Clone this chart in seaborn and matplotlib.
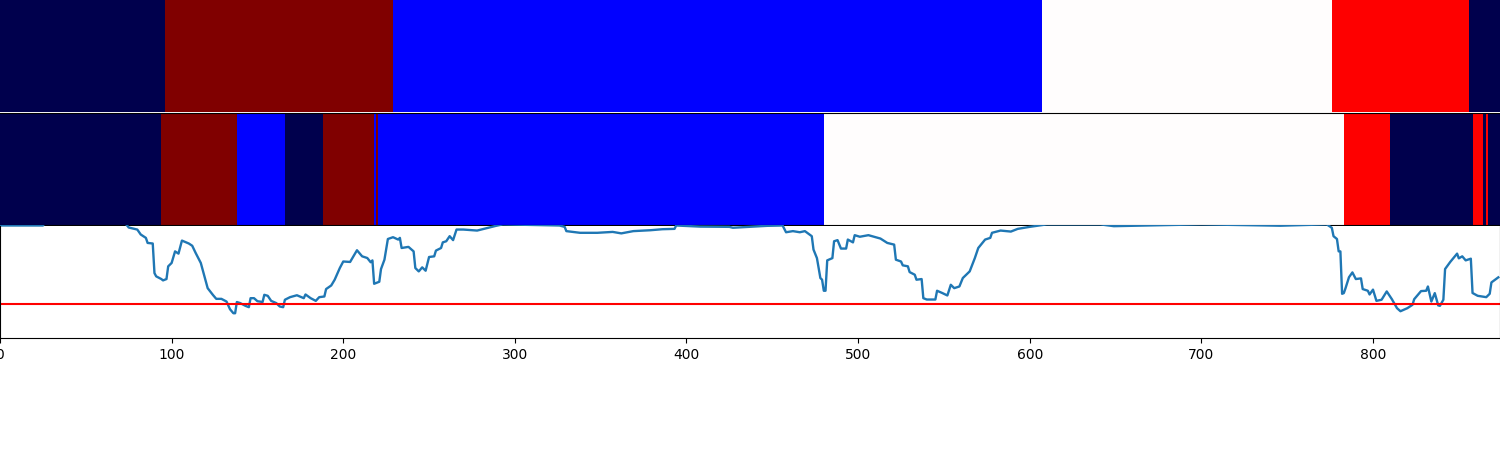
import numpy as np
import pandas as pd
import seaborn as sns
import matplotlib
matplotlib.use('Agg')
import matplotlib.pyplot as plt

# state order on the seismic scale: 0 navy, 1 blue, 2 white, 3 red, 4 dark red
true_states = [0, 4, 1, 2, 3, 0]
true_lengths = [96, 133, 378, 169, 80, 18]

pred_states = [0, 4, 1, 0, 4, 1, 4, 1, 2, 3, 0, 3, 0, 3, 0]
pred_lengths = [94, 44, 28, 22, 30, 1, 1, 260, 303, 27, 48, 6, 2, 1, 7]

frames = [0, 25, 26, 73, 75, 80, 82, 85, 86, 89, 90, 91, 94, 95, 97, 98, 100, 102, 104, 106, 110, 112,
          114, 117, 121, 124, 126, 129, 132, 134, 136, 137, 138, 140, 143, 145, 146, 148, 150, 153, 154, 156,
          158, 161, 163, 165, 166, 169, 173, 177, 178, 181, 184, 186, 189, 190, 193, 195, 198, 200, 204, 208,
          211, 214, 216, 217, 218, 221, 222, 224, 226, 229, 232, 233, 234, 238, 241, 242, 244, 246, 248, 250,
          253, 254, 257, 258, 260, 262, 264, 266, 270, 278, 282, 289, 293, 326, 329, 330, 338, 348, 357, 362,
          369, 379, 386, 393, 394, 408, 425, 427, 447, 456, 458, 462, 466, 469, 473, 474, 476, 478, 479, 480,
          481, 482, 485, 486, 488, 490, 493, 494, 497, 498, 501, 506, 513, 517, 521, 522, 525, 526, 529, 530,
          533, 534, 537, 538, 540, 545, 546, 549, 552, 554, 556, 559, 561, 565, 568, 570, 574, 577, 578, 583,
          589, 593, 600, 610, 641, 649, 700, 746, 773, 776, 777, 779, 780, 781, 782, 783, 784, 786, 788, 790,
          793, 794, 797, 798, 800, 802, 805, 808, 811, 814, 816, 820, 823, 824, 828, 831, 832, 834, 836, 838,
          839, 841, 842, 845, 849, 850, 852, 854, 857, 858, 861, 866, 868, 869, 873]
scores = [1.0, 1.0, 1.02, 1.02, .982, .964, .92, .89, .845, .84, .577, .548, .524, .512, .524, .637, .667, .77, .75, .866, .84, .82,
          .756, .667, .443, .384, .348, .348, .324, .256, .22, .22, .32, .31, .286, .274, .354, .354, .327, .32, .384, .375,
          .33, .31, .28, .274, .34, .363, .38, .354, .387, .354, .33, .363, .369, .435, .467, .518, .622, .68, .676, .78,
          .726, .711, .673, .69, .482, .5, .613, .696, .88, .896, .875, .89, .80, .81, .77, .622, .592, .628, .598, .72,
          .726, .777, .80, .85, .86, .905, .87, .964, .964, .955, .97, .997, 1.01, 1.0, .988, .95, .935, .935, .943, .93,
          .95, .958, .967, .97, 1.0, .99, .988, .98, .997, 1.0, .94, .95, .94, .95, .905, .786, .71, .533, .518, .42,
          .42, .69, .71, .86, .87, .795, .795, .875, .85, .914, .9, .914, .884, .845, .83, .696, .68, .646, .637, .586,
          .5625, .518, .524, .354, .342, .342, .42, .40, .378, .473, .443, .458, .533, .592, .71, .80, .875, .89, .935, .955,
          .946, .97, .988, 1.01, 1.01, .994, 1.01, .998, 1.01, .98, .905, .88, .77, .77, .393, .399, .443, .54, .583, .524,
          .53, .435, .42, .387, .43, .33, .34, .414, .345, .265, .238, .265, .295, .345, .417, .42, .458, .324, .399, .29,
          .286, .34, .613, .676, .75, .708, .726, .69, .705, .40, .375, .363, .393, .494, .539]
threshold = 0.3
xtick_values = [0, 100, 200, 300, 400, 500, 600, 700, 800]

true_row = pd.DataFrame([np.repeat(true_states, true_lengths)])
pred_row = pd.DataFrame([np.repeat(pred_states, pred_lengths)])
score_df = pd.DataFrame({'frame': frames, 'score': scores})

fig, axes = plt.subplots(3, 1, figsize=(15, 4.5), dpi=100)
# panels sit at 0-112, 113.5-225.5 and 225.5-338 px from the top
axes[0].set_position([0, 1 - 112 / 450, 1, 112 / 450])
axes[1].set_position([0, 1 - 225.5 / 450, 1, 112 / 450])
axes[2].set_position([0, 1 - 338 / 450, 1, 112.5 / 450])

for ax, row in zip(axes[:2], [true_row, pred_row]):
    sns.heatmap(row, ax=ax, cmap='seismic', vmin=0, vmax=4, cbar=False,
                xticklabels=False, yticklabels=False)
    ax.set_xlabel('')
    ax.set_ylabel('')

for spine in axes[0].spines.values():
    spine.set_visible(False)
for side in ['top', 'bottom']:
    axes[1].spines[side].set_visible(True)
    axes[1].spines[side].set_color('black')
    axes[1].spines[side].set_linewidth(0.8)
axes[2].spines['top'].set_visible(False)

sns.lineplot(data=score_df, x='frame', y='score', ax=axes[2], errorbar=None, linewidth=1.7)
axes[2].axhline(threshold, color='red', linewidth=1.5)
axes[2].set_xlim(0, 874)
axes[2].set_ylim(0, 1)
axes[2].set_xticks(xtick_values)
axes[2].set_yticks([])
axes[2].set_xlabel('')
axes[2].set_ylabel('')

fig.savefig('out.png', dpi=100)
